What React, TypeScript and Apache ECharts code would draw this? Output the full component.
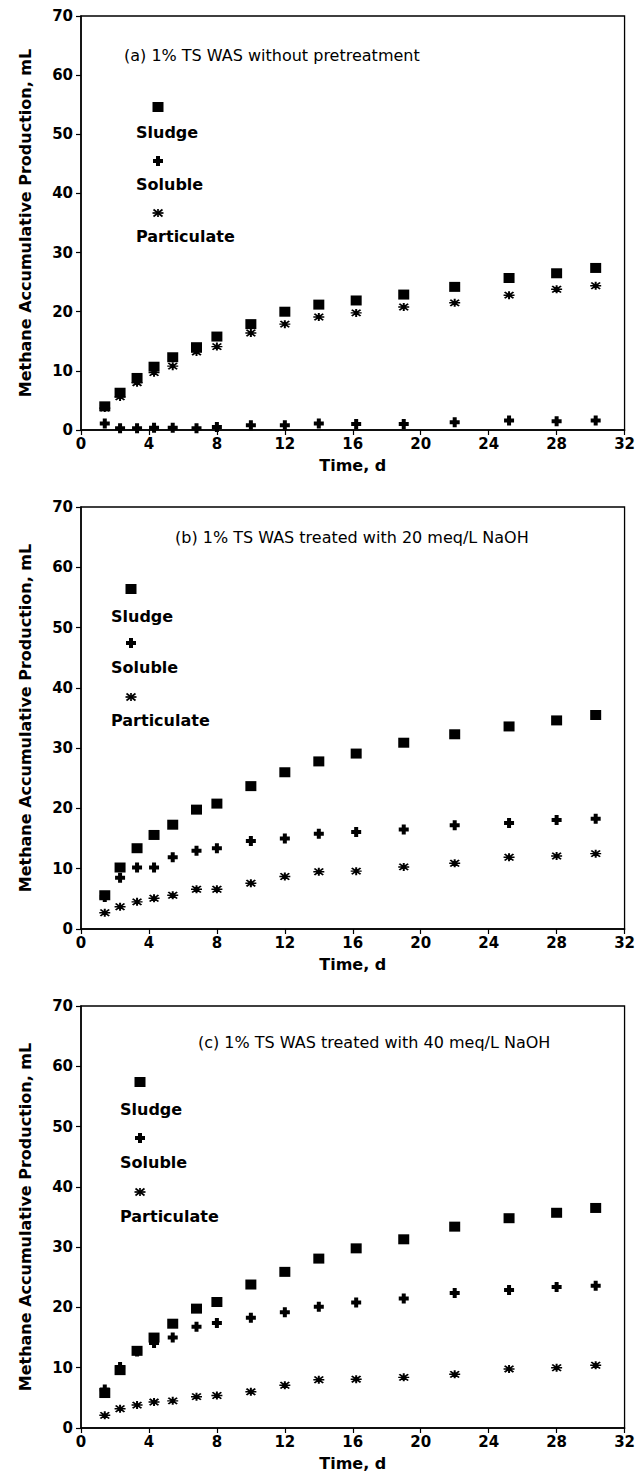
import React, { useEffect, useRef } from "react";
import * as echarts from "echarts";

// ---- data ----
const days = [1.4, 2.3, 3.3, 4.3, 5.4, 6.8, 8.0, 10.0, 12.0, 14.0, 16.2, 19.0, 22.0, 25.2, 28.0, 30.3];

const sludgeA = [4.0, 6.3, 8.8, 10.7, 12.3, 14.0, 15.8, 17.9, 20.0, 21.2, 21.9, 22.9, 24.2, 25.7, 26.5, 27.4];
const solubleA = [1.1, 0.3, 0.3, 0.4, 0.4, 0.3, 0.5, 0.8, 0.8, 1.1, 1.0, 1.0, 1.3, 1.6, 1.5, 1.6];
const particulateA = [3.7, 5.6, 8.0, 9.7, 10.8, 13.2, 14.1, 16.4, 17.9, 19.1, 19.8, 20.8, 21.5, 22.8, 23.8, 24.4];

const sludgeB = [5.6, 10.2, 13.4, 15.6, 17.3, 19.8, 20.8, 23.7, 26.0, 27.8, 29.1, 30.9, 32.3, 33.6, 34.6, 35.5];
const solubleB = [5.3, 8.5, 10.2, 10.2, 11.9, 13.0, 13.4, 14.6, 15.0, 15.8, 16.1, 16.5, 17.2, 17.6, 18.1, 18.3];
const particulateB = [2.7, 3.7, 4.5, 5.1, 5.6, 6.6, 6.6, 7.6, 8.7, 9.5, 9.6, 10.3, 10.9, 11.9, 12.1, 12.5];

const sludgeC = [5.8, 9.6, 12.8, 15.0, 17.3, 19.8, 20.9, 23.8, 25.9, 28.1, 29.8, 31.3, 33.4, 34.8, 35.7, 36.5];
const solubleC = [6.4, 10.1, 12.7, 14.1, 15.0, 16.8, 17.4, 18.3, 19.2, 20.1, 20.8, 21.5, 22.4, 22.9, 23.4, 23.6];
const particulateC = [2.1, 3.2, 3.8, 4.3, 4.5, 5.2, 5.4, 6.0, 7.1, 8.0, 8.1, 8.4, 8.9, 9.8, 10.0, 10.4];

const panelData = [
  [sludgeA, solubleA, particulateA],
  [sludgeB, solubleB, particulateB],
  [sludgeC, solubleC, particulateC],
];
const panelTitles = [
  "(a) 1% TS WAS without pretreatment",
  "(b) 1% TS WAS treated with 20 meq/L NaOH",
  "(c) 1% TS WAS treated with 40 meq/L NaOH",
];
const seriesNames = ["Sludge", "Soluble", "Particulate"];
const xTitle = "Time, d";
const yTitle = "Methane Accumulative Production, mL";

// ---- layout ----
const GRID_LEFT = 81;
const GRID_WIDTH = 545;
const GRIDS = [
  { top: 16, height: 414 },
  { top: 507, height: 422 },
  { top: 1006, height: 422 },
];
// annotation positions (left x, center y)
const ANNOT = [
  { x: 124, y: 55 },
  { x: 175, y: 537 },
  { x: 198, y: 1042 },
];
// legend layout: marker x, text left x, y of [square, text, plus, text, asterisk, text]
const LEG = [
  { mx: 158, tx: 136, ys: [107, 132, 161, 184, 213, 236] },
  { mx: 131, tx: 111, ys: [589, 616, 643, 667, 697, 720] },
  { mx: 140, tx: 120, ys: [1082, 1109, 1138, 1162, 1192, 1216] },
];

const FONT = '"DejaVu Sans", "Liberation Sans", Arial, sans-serif';
const PLUS_PATH =
  "path://M3,0 L7,0 L7,3 L10,3 L10,7 L7,7 L7,10 L3,10 L3,7 L0,7 L0,3 L3,3 Z";
const AST_PATH = "path://M5,0 L5,10 M0,5 L10,5 M1,1 L9,9 M9,1 L1,9";

export default function App() {
  const ref = useRef<HTMLDivElement>(null);
  useEffect(() => {
    if (!ref.current) return;
    const chart = echarts.init(ref.current, null, { renderer: "svg" });

    const grid = GRIDS.map((g) => ({
      left: GRID_LEFT,
      width: GRID_WIDTH,
      top: g.top,
      height: g.height,
      show: true,
      borderColor: "#000",
      borderWidth: 1.3,
      backgroundColor: "transparent",
    }));

    const xAxis = GRIDS.map((_, i) => ({
      type: "value",
      gridIndex: i,
      min: 0,
      max: 32,
      interval: 4,
      name: xTitle,
      nameLocation: "middle",
      nameGap: 27,
      nameTextStyle: { fontFamily: FONT, fontWeight: "bold", fontSize: 16, color: "#000" },
      axisLine: { show: true, onZero: false, lineStyle: { color: "#000", width: 1.5 } },
      axisTick: { show: true, inside: false, length: 5, lineStyle: { color: "#000", width: 1.2 } },
      axisLabel: { fontFamily: FONT, fontWeight: "bold", fontSize: 15, color: "#000", margin: 6 },
      splitLine: { show: false },
    }));

    const yAxis = GRIDS.map((_, i) => ({
      type: "value",
      gridIndex: i,
      min: 0,
      max: 70,
      interval: 10,
      name: yTitle,
      nameLocation: "middle",
      nameGap: 48,
      nameTextStyle: { fontFamily: FONT, fontWeight: "bold", fontSize: 16, color: "#000" },
      axisLine: { show: true, onZero: false, lineStyle: { color: "#000", width: 1.5 } },
      axisTick: { show: true, inside: false, length: 5, lineStyle: { color: "#000", width: 1.2 } },
      axisLabel: { fontFamily: FONT, fontWeight: "bold", fontSize: 15, color: "#000", margin: 8 },
      splitLine: { show: false },
    }));

    const symbols = [
      { symbol: "rect", symbolSize: [11, 10], itemStyle: { color: "#000", opacity: 1 } },
      { symbol: PLUS_PATH, symbolSize: [10, 10], itemStyle: { color: "#000", opacity: 1 } },
      {
        symbol: AST_PATH,
        symbolSize: [11, 8],
        itemStyle: { color: "#000", borderColor: "#000", borderWidth: 1.7, opacity: 1 },
      },
    ];

    const series: any[] = [];
    panelData.forEach((set, i) => {
      set.forEach((vals, k) => {
        series.push({
          type: "scatter",
          name: seriesNames[k],
          xAxisIndex: i,
          yAxisIndex: i,
          data: days.map((d, j) => [d, vals[j]]),
          ...symbols[k],
        });
      });
    });

    const graphic: any[] = [];
    ANNOT.forEach((a, i) => {
      graphic.push({
        type: "text",
        x: a.x,
        y: a.y,
        style: {
          text: panelTitles[i],
          fontFamily: FONT,
          fontSize: 16,
          fill: "#000",
          align: "left",
          verticalAlign: "middle",
        },
      });
    });
    LEG.forEach((l) => {
      const [sqY, t1, plY, t2, asY, t3] = l.ys;
      graphic.push({
        type: "rect",
        shape: { x: l.mx - 5.5, y: sqY - 5, width: 11, height: 10 },
        style: { fill: "#000" },
      });
      const px = l.mx - 5;
      const py = plY - 5;
      graphic.push({
        type: "polygon",
        shape: {
          points: [
            [px + 3, py], [px + 7, py], [px + 7, py + 3], [px + 10, py + 3],
            [px + 10, py + 7], [px + 7, py + 7], [px + 7, py + 10], [px + 3, py + 10],
            [px + 3, py + 7], [px, py + 7], [px, py + 3], [px + 3, py + 3],
          ],
        },
        style: { fill: "#000" },
      });
      const ax = l.mx;
      const ay = asY;
      const ls = { stroke: "#000", lineWidth: 1.7 };
      graphic.push({
        type: "group",
        children: [
          { type: "line", shape: { x1: ax, y1: ay - 4, x2: ax, y2: ay + 4 }, style: ls },
          { type: "line", shape: { x1: ax - 5.5, y1: ay, x2: ax + 5.5, y2: ay }, style: ls },
          { type: "line", shape: { x1: ax - 4.5, y1: ay - 3.5, x2: ax + 4.5, y2: ay + 3.5 }, style: ls },
          { type: "line", shape: { x1: ax + 4.5, y1: ay - 3.5, x2: ax - 4.5, y2: ay + 3.5 }, style: ls },
        ],
      });
      [t1, t2, t3].forEach((ty, k) => {
        graphic.push({
          type: "text",
          x: l.tx,
          y: ty,
          style: {
            text: seriesNames[k],
            fontFamily: FONT,
            fontWeight: "bold",
            fontSize: 16,
            fill: "#000",
            align: "left",
            verticalAlign: "middle",
          },
        });
      });
    });

    chart.setOption({
      animation: false,
      backgroundColor: "#fff",
      grid,
      xAxis,
      yAxis,
      series,
      graphic,
    });
    return () => chart.dispose();
  }, []);

  return (
    <div
      ref={ref}
      style={{ position: "absolute", left: 0, top: 0, width: 638, height: 1477, background: "#fff" }}
    />
  );
}
